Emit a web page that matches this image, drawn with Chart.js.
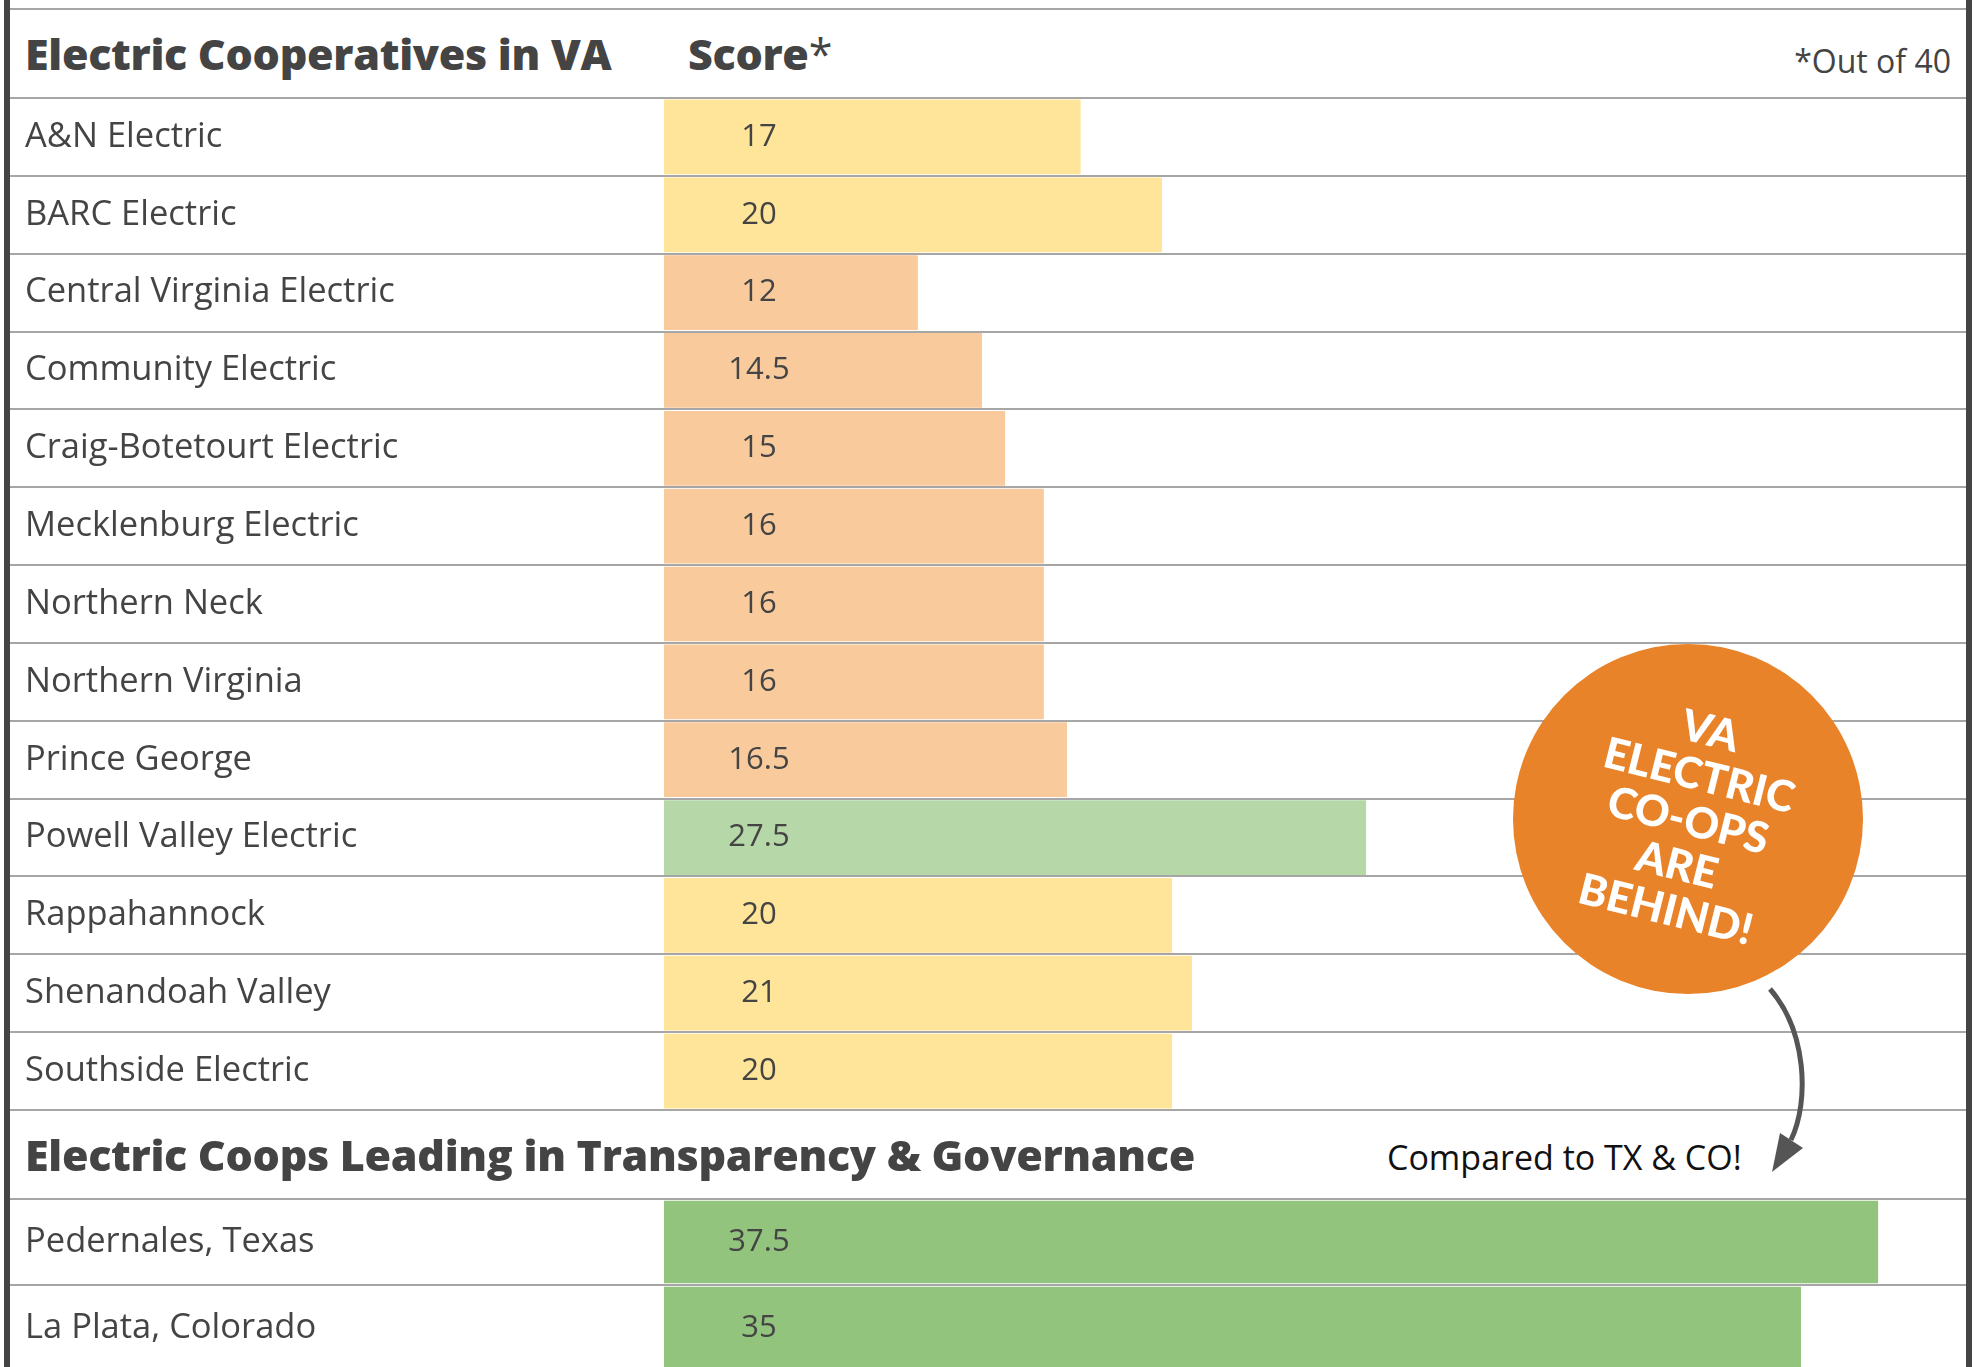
<!DOCTYPE html>
<html>
<head>
<meta charset="utf-8">
<script src="https://cdn.jsdelivr.net/npm/chart.js@4.4.1/dist/chart.umd.min.js"></script>
<style>
  html, body { margin: 0; padding: 0; background: #fff; }
  body { width: 1980px; height: 1367px; position: relative; overflow: hidden; font-family: "Open Sans", sans-serif; color: #444; }
  canvas { position: absolute; left: 0; }
  .border { position: absolute; top: 0; height: 1367px; width: 6px; background: #444; z-index: 3; }
  .hline { position: absolute; left: 10px; width: 1956px; height: 2px; background: #a6a6a6; }
  .row { position: absolute; left: 25px; height: 89px; display: flex; align-items: center; white-space: nowrap; }
  .head { font-weight: 800; font-size: 43px; color: #444; letter-spacing: -0.3px; }
  #note { position: absolute; right: 29px; top: 39px; font-size: 32px; color: #444; }
  #compared { position: absolute; left: 1387px; top: 1134px; font-size: 34px; color: #111; white-space: nowrap; }
  #badge { position: absolute; left: 1513px; top: 644px; width: 350px; height: 350px; border-radius: 50%; background: #e8832a;
           display: flex; align-items: center; justify-content: center; z-index: 2; }
  #badge div { transform: rotate(14deg); color: #fff; font-family: Lato, sans-serif; font-weight: 900; font-size: 43px; line-height: 46px; text-align: center; }
  svg { position: absolute; left: 0; top: 0; z-index: 2; }
</style>
</head>
<body>

<div class="border" style="left:4px"></div>
<div class="border" style="left:1966px"></div>
<div class="hline" style="top:8px"></div>

<div class="row head" style="top:9px">Electric Cooperatives in VA</div>
<div class="row head" style="top:9px; left:688px">Score<span style="font-weight:400">*</span></div>
<div id="note">*Out of 40</div>

<canvas id="va" width="1980" height="1016" style="top:96px"></canvas>

<div class="row head" style="top:1110px">Electric Coops Leading in Transparency &amp; Governance</div>
<div id="compared">Compared to TX &amp; CO!</div>

<canvas id="leaders" width="1980" height="176" style="top:1197px"></canvas>

<div id="badge"><div>VA<br>ELECTRIC<br>CO-OPS<br>ARE<br>BEHIND!</div></div>

<svg width="1980" height="1367">
  <path d="M1770 989 C1806 1030, 1810 1100, 1791 1140" fill="none" stroke="#555" stroke-width="5"/>
  <polygon points="1772,1172 1803,1148 1780,1133" fill="#555"/>
</svg>

<script>
const coops = ['A&N Electric', 'BARC Electric', 'Central Virginia Electric', 'Community Electric',
  'Craig-Botetourt Electric', 'Mecklenburg Electric', 'Northern Neck', 'Northern Virginia',
  'Prince George', 'Powell Valley Electric', 'Rappahannock', 'Shenandoah Valley', 'Southside Electric'];
const scores = [17, 20, 12, 14.5, 15, 16, 16, 16, 16.5, 27.5, 20, 21, 20];
// the reference does not draw its bars to scale: these are the bar lengths as drawn,
// read against the 0-40 axis of the two leading co-ops below
const drawnLength = [12.8, 15.3, 7.8, 9.77, 10.48, 11.67, 11.67, 11.67, 12.38, 21.57, 15.61, 16.22, 15.61];

const leaders = ['Pedernales, Texas', 'La Plata, Colorado'];
const leaderScores = [37.5, 35];
const leaderLength = [37.3, 34.93];

function tierColor(s) {
  if (s >= 30) return '#93c47d';
  if (s >= 25) return '#b6d7a8';
  if (s >= 17) return '#ffe599';
  return '#f9cb9c';
}

const valueLabels = {
  id: 'valueLabels',
  afterDatasetsDraw(chart, args, opts) {
    const ctx = chart.ctx;
    const x = chart.scales.x.getPixelForValue(0) + 95;
    ctx.save();
    ctx.font = '31px "Open Sans"';
    ctx.fillStyle = '#444';
    ctx.textAlign = 'center';
    ctx.textBaseline = 'middle';
    chart.getDatasetMeta(0).data.forEach((bar, i) => {
      ctx.fillText(String(opts.printed[i]), x, bar.y);
    });
    ctx.restore();
  }
};

function makeTable(id, labels, lengths, printed) {
  return new Chart(document.getElementById(id), {
    type: 'bar',
    data: {
      labels: labels,
      datasets: [{
        data: lengths,
        backgroundColor: printed.map(tierColor),
        barPercentage: 1,
        categoryPercentage: 0.96
      }]
    },
    options: {
      indexAxis: 'y',
      responsive: false,
      animation: false,
      layout: { padding: { left: 25, right: 14, top: 2, bottom: 2 } },
      plugins: {
        legend: { display: false },
        tooltip: { enabled: false },
        valueLabels: { printed: printed }
      },
      scales: {
        x: { display: false, min: 0, max: 40 },
        y: {
          border: { display: false },
          grid: { color: '#a6a6a6', lineWidth: 2, tickLength: 654, tickColor: '#a6a6a6', offset: true },
          ticks: { crossAlign: 'far', color: '#444', padding: 0, font: { family: 'Open Sans', size: 34.5 } },
          afterFit: s => {
            s.width = 639;
            // labels sit inside their rows, so no room is needed above/below
            s.paddingTop = 0;
            s.paddingBottom = 0;
          }
        }
      }
    },
    plugins: [valueLabels]
  });
}

makeTable('va', coops, drawnLength, scores);
makeTable('leaders', leaders, leaderLength, leaderScores);
</script>
</body>
</html>
